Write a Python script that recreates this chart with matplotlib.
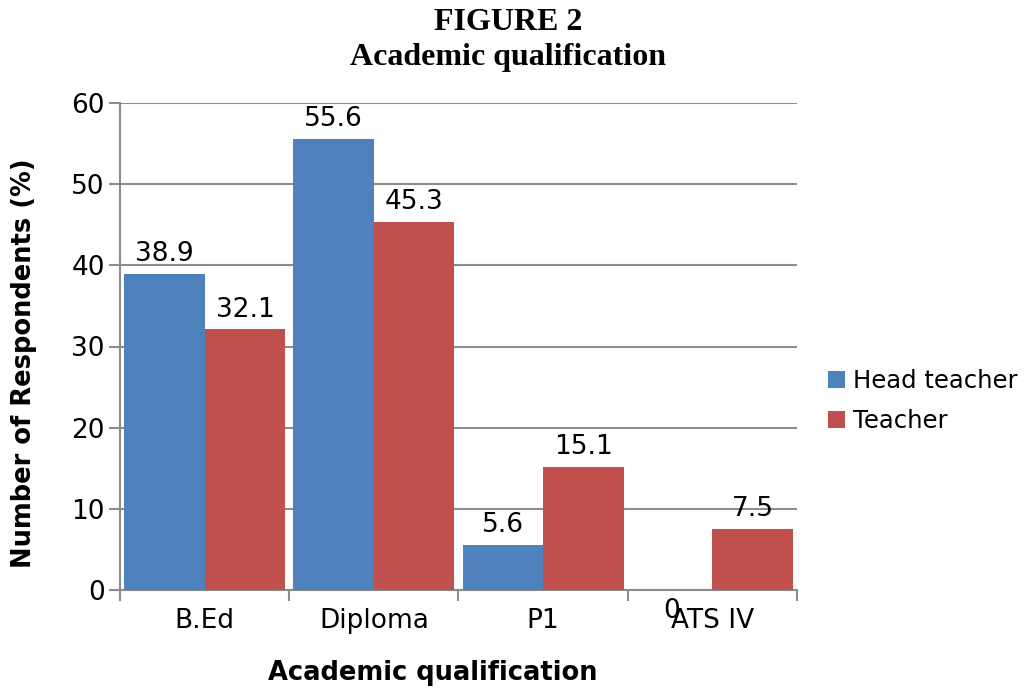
import numpy as np
import matplotlib.pyplot as plt

# -------------------------
# Data
# -------------------------
categories = ["B.Ed", "Diploma", "P1", "ATS IV"]
head_teacher = [38.9, 55.6, 5.6, 0]
teacher = [32.1, 45.3, 15.1, 7.5]
y_ticks = [0, 10, 20, 30, 40, 50, 60]

BLUE = "#4F81BD"
RED = "#C0504D"
GRID = "#8C8C8C"
FS = 19

# -------------------------
# Figure
# -------------------------
fig = plt.figure(figsize=(10.31, 6.89), dpi=100)
ax = fig.add_axes([120 / 1031, 1 - 590 / 689, 677 / 1031, 487 / 689])

x = np.arange(len(categories))
width = 0.476
bars_h = ax.bar(x - width / 2, head_teacher, width, color=BLUE, label="Head teacher", zorder=3)
bars_t = ax.bar(x + width / 2, teacher, width, color=RED, label="Teacher", zorder=3)

# value labels above each bar; zero sits under the axis
for bars, vals in ((bars_h, head_teacher), (bars_t, teacher)):
    for b, v in zip(bars, vals):
        cx = b.get_x() + b.get_width() / 2
        txt = f"{v:g}"
        if v == 0:
            ax.annotate(txt, (cx, v), xytext=(0, -6), textcoords="offset points",
                        ha="center", va="top", fontsize=FS, zorder=4)
        else:
            ax.annotate(txt, (cx, v), xytext=(0, 5), textcoords="offset points",
                        ha="center", va="bottom", fontsize=FS, zorder=4)

ax.set_xlim(-0.5, len(categories) - 0.5)
ax.set_ylim(0, 60)
ax.set_yticks(y_ticks)
ax.set_yticklabels([str(t) for t in y_ticks], fontsize=FS)
ax.yaxis.grid(True, color=GRID, linewidth=1.5, zorder=0)
ax.tick_params(axis="y", length=8, width=1.5, color=GRID, pad=3)

# category ticks between groups, labels centered under each group
ax.set_xticks(np.arange(len(categories) + 1) - 0.5)
ax.set_xticklabels([])
ax.set_xticks(x, minor=True)
ax.set_xticklabels(categories, minor=True, fontsize=FS)
ax.tick_params(axis="x", which="major", length=8, width=1.5, color=GRID)
ax.tick_params(axis="x", which="minor", length=0, pad=13)

for side in ("top", "right"):
    ax.spines[side].set_visible(False)
for side in ("left", "bottom"):
    ax.spines[side].set_color(GRID)
    ax.spines[side].set_linewidth(1.5)

# titles and axis labels
fig.text(508 / 1031, 1 - 22 / 689, "FIGURE 2", ha="center", va="center",
         fontsize=23, fontweight="bold", family="Liberation Serif")
fig.text(508 / 1031, 1 - 58 / 689, "Academic qualification", ha="center", va="center",
         fontsize=23, fontweight="bold", family="Liberation Serif")
fig.text(433 / 1031, 1 - 673 / 689, "Academic qualification", ha="center", va="center",
         fontsize=18.5, fontweight="bold")
fig.text(24 / 1031, 1 - 363 / 689, "Number of Respondents (%)", ha="center", va="center",
         rotation=90, fontsize=18.5, fontweight="bold")

fig.legend(handles=[bars_h, bars_t], loc="center left", bbox_to_anchor=(823 / 1031, 1 - 401 / 689),
           frameon=False, fontsize=17.5, handlelength=0.7, handleheight=0.7, handletextpad=0.35,
           labelspacing=0.65, borderpad=0.2, borderaxespad=0)

fig.savefig("out.png", dpi=100)
